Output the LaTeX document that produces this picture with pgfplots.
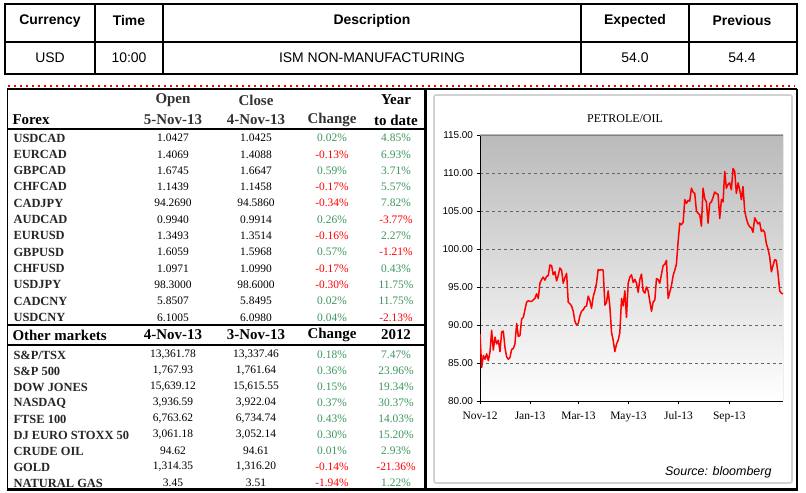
\documentclass[border=0pt]{standalone}
\usepackage{pgfplots}
\pgfplotsset{compat=1.18}
\usepackage{pgfplotstable}
\usepackage{fontspec}
\setmainfont{Liberation Serif}
\newfontfamily\arial{Liberation Sans}
\definecolor{pgreen}{RGB}{60,150,90}
\definecolor{pred}{RGB}{255,0,0}
\newcommand\fs[1]{\fontsize{#1}{#1}\selectfont}
\newcommand\row[8]{%
 \node[anchor=west,font=\fs{12.5}\bfseries,text=black!85] at (10,#1) {#2};
 \node[font=\fs{11.5}] at (173,#1) {#3};
 \node[font=\fs{11.5}] at (256,#1) {#4};
 \node[font=\fs{11.5},text=#6] at (332,#1) {#5};
 \node[font=\fs{11.5},text=#8] at (396,#1) {#7};
}
\pgfplotstableread{
day val
0 88.8
2.0 84.4
4.1 86
6.1 85.5
8.1 86.2
10.2 85.3
12.2 86.5
14.2 89.3
16.2 86.7
18.3 88.4
20.3 87.5
22.3 88
24.4 86.5
26.4 89.1
28.4 89.2
30.5 87
32.5 85.8
34.5 85.5
36.5 85.7
38.6 86.8
40.6 86.9
42.6 87.5
44.7 90.2
46.7 88.5
48.7 88.6
50.8 90.8
52.8 91
54.8 92
56.8 93
58.9 93.2
60.9 93.1
62.9 93.1
65.0 93.3
67.0 93.5
69.0 94.1
71.1 93.5
73.1 95.5
75.1 96
77.1 96.3
79.2 95.9
81.2 96.4
83.2 96.5
85.3 97.9
87.3 97.8
89.3 96.6
91.4 97
93.4 95.8
95.4 96.5
97.4 97.5
99.5 97.2
101.5 95.5
103.5 96.2
105.6 96.8
107.6 93
109.6 92.8
111.7 92.5
113.7 91.8
115.7 90.5
117.7 90
119.8 90.2
121.8 91.2
123.8 91.8
125.9 92
127.9 92.4
129.9 92.5
132.0 93.8
134.0 93.2
136.0 92.2
138.0 93.7
140.1 94.5
142.1 95.5
144.1 97.3
146.2 97.2
148.2 97.3
150.2 97.2
152.3 92.6
154.3 93
156.3 94.5
158.3 92.5
160.4 89
162.4 88
164.4 86.5
166.5 87.5
168.5 88
170.5 89
172.6 93.5
174.6 92.5
176.6 94.5
178.6 91
180.7 95.5
182.7 96.3
184.7 96.6
186.8 95.6
188.8 96
190.8 95.5
192.9 94.3
194.9 96
196.9 96.7
198.9 94.5
201.0 94.2
203.0 95
205.0 94.5
207.1 93.1
209.1 91.8
211.1 93
213.2 93.3
215.2 96.1
217.2 96
219.2 95.5
221.3 96.7
223.3 97.8
225.3 98
227.4 98.5
229.4 93.5
231.4 94.3
233.5 95.2
235.5 96.5
237.5 97.2
239.5 98
241.6 101
243.6 103.4
245.6 103.2
247.7 103.5
249.7 106.5
251.7 106
253.8 106.4
255.8 106.3
257.8 108
259.8 107.5
261.9 107.3
263.9 105
265.9 104.7
268.0 104.5
270.0 103
272.0 108
274.1 106.6
276.1 106.2
278.1 103.4
280.1 106
282.2 106.2
284.2 106.8
286.2 107.5
288.3 107.3
290.3 107.2
292.3 104
294.4 106.5
296.4 106.2
298.4 110.2
300.4 108
302.5 108.5
304.5 108.7
306.5 107.8
308.6 110.6
310.6 110.2
312.6 107.3
314.7 108.7
316.7 107.8
318.7 106.5
320.7 108.2
322.8 105
324.8 104
326.8 103.3
328.9 102.9
330.9 102.8
332.9 102.2
335.0 104.1
337.0 103.7
339.0 103.3
341.0 103.5
343.1 102.3
345.1 102.5
347.1 102.2
349.2 100.7
351.2 100
353.2 99
355.3 97
357.3 97.8
359.3 98.6
361.3 98.5
363.4 96.8
365.4 94.5
367.4 94.2
369.5 94.1
}\oiltable
\begin{document}
\begin{tikzpicture}[x=1bp,y=1bp]
\fill[white] (0,0) rectangle (806,493);
\useasboundingbox (0,0) rectangle (806,493);
% ---------- top table ----------
\draw[line width=2.2bp] (5,489) rectangle (797,419);
\draw[line width=2bp] (5,451) -- (797,451);
\foreach \xx in {95,163,581,689} \draw[line width=1.8bp] (\xx,489) -- (\xx,419);
\begin{scope}[every node/.style={font=\arial\bfseries\fs{14}}]
\node at (50,472) {Currency};
\node at (129,472) {Time};
\node at (372,472) {Description};
\node at (635,472) {Expected};
\node at (742,472) {Previous};
\end{scope}
\begin{scope}[every node/.style={font=\arial\fs{14}}]
\node at (50,435) {USD};
\node at (129,435) {10:00};
\node at (372,435) {ISM NON-MANUFACTURING};
\node at (635,435) {54.0};
\node at (742,435) {54.4};
\end{scope}
\draw[pred, line width=1.6bp, dash pattern=on 1.6bp off 4.4bp] (8,407) -- (795,407);
% ---------- lower frame ----------
\draw[line width=1.2bp] (7,404) -- (797,404);
\draw[line width=1.5bp] (7.5,404) -- (7.5,3.5);
\draw[line width=2.2bp] (425.5,404) -- (425.5,3.5);
\draw[line width=2bp] (797,404) -- (797,3.5);
\draw[line width=2.2bp] (6.5,3.5) -- (798,3.5);
% ---------- left table ----------
\begin{scope}[every node/.style={font=\fs{15}\bfseries}]
\node[text=black!80] at (173,393) {Open};
\node[text=black!80] at (256,393) {Close};
\node at (396,393) {Year};
\node[anchor=west] at (9,373) {Forex};
\node[text=black!80] at (173,373) {5-Nov-13};
\node[text=black!80] at (256,373) {4-Nov-13};
\node[text=black!80] at (332,373) {Change};
\node at (396,373) {to date};
\node[anchor=west] at (9,158) {Other markets};
\node at (173,158) {4-Nov-13};
\node at (256,158) {3-Nov-13};
\node at (332,158) {Change};
\node at (396,158) {2012};
\end{scope}
\draw[line width=2bp] (7.5,363.5) -- (425,363.5);
\draw[line width=2bp] (7.5,168) -- (425,168);
\draw[line width=2bp] (7.5,148) -- (425,148);
\row{355}{USDCAD}{1.0427}{1.0425}{0.02\%}{pgreen}{4.85\%}{pgreen}
\row{338.7}{EURCAD}{1.4069}{1.4088}{-0.13\%}{pred}{6.93\%}{pgreen}
\row{322.4}{GBPCAD}{1.6745}{1.6647}{0.59\%}{pgreen}{3.71\%}{pgreen}
\row{306.1}{CHFCAD}{1.1439}{1.1458}{-0.17\%}{pred}{5.57\%}{pgreen}
\row{289.8}{CADJPY}{94.2690}{94.5860}{-0.34\%}{pred}{7.82\%}{pgreen}
\row{273.5}{AUDCAD}{0.9940}{0.9914}{0.26\%}{pgreen}{-3.77\%}{pred}
\row{257.2}{EURUSD}{1.3493}{1.3514}{-0.16\%}{pred}{2.27\%}{pgreen}
\row{240.9}{GBPUSD}{1.6059}{1.5968}{0.57\%}{pgreen}{-1.21\%}{pred}
\row{224.6}{CHFUSD}{1.0971}{1.0990}{-0.17\%}{pred}{0.43\%}{pgreen}
\row{208.3}{USDJPY}{98.3000}{98.6000}{-0.30\%}{pred}{11.75\%}{pgreen}
\row{192}{CADCNY}{5.8507}{5.8495}{0.02\%}{pgreen}{11.75\%}{pgreen}
\row{175.7}{USDCNY}{6.1005}{6.0980}{0.04\%}{pgreen}{-2.13\%}{pred}
\row{138}{S\&P/TSX}{13,361.78}{13,337.46}{0.18\%}{pgreen}{7.47\%}{pgreen}
\row{122}{S\&P 500}{1,767.93}{1,761.64}{0.36\%}{pgreen}{23.96\%}{pgreen}
\row{106}{DOW JONES}{15,639.12}{15,615.55}{0.15\%}{pgreen}{19.34\%}{pgreen}
\row{90}{NASDAQ}{3,936.59}{3,922.04}{0.37\%}{pgreen}{30.37\%}{pgreen}
\row{74}{FTSE 100}{6,763.62}{6,734.74}{0.43\%}{pgreen}{14.03\%}{pgreen}
\row{58}{DJ EURO STOXX 50}{3,061.18}{3,052.14}{0.30\%}{pgreen}{15.20\%}{pgreen}
\row{42}{CRUDE OIL}{94.62}{94.61}{0.01\%}{pgreen}{2.93\%}{pgreen}
\row{26}{GOLD}{1,314.35}{1,316.20}{-0.14\%}{pred}{-21.36\%}{pred}
\row{10}{NATURAL GAS}{3.45}{3.51}{-1.94\%}{pred}{1.22\%}{pgreen}
% ---------- chart panel ----------
\draw[black!18, line width=1.6bp, rounded corners=2bp] (434,398) rectangle (792,10);
\node[font=\fs{12}] at (625,374) {PETROLE/OIL};
\node[anchor=east, font=\arial\itshape\fs{12.5}] at (775,21) {Source: bloomberg};
\begin{axis}[at={(480bp,92bp)}, anchor=south west,
  width=303bp, height=266bp, scale only axis,
  xmin=0, xmax=369.5, ymin=80, ymax=115,
  xtick={0,61,120,181,242,304},
  xticklabels={Nov-12,Jan-13,Mar-13,May-13,Jul-13,Sep-13},
  ytick={80,85,90,95,100,105,110,115},
  /pgf/number format/assume math mode=true,
  yticklabel={\pgfmathprintnumber[fixed,fixed zerofill,precision=2]{\tick}},
  yticklabel style={font=\arial\fs{10}},
  xticklabel style={font=\fs{11.5}, yshift=-4bp},
  axis x line*=bottom, axis y line*=left,
  axis line style={-, black, line width=0.9bp},
  tick align=outside, major tick length=3.5bp,
  tick style={black, line width=0.7bp},
  ymajorgrids, grid style={black!60, dashed, line width=0.55bp},
  axis background/.style={top color=black!27, bottom color=white},
  clip=true]
\addplot[pred, line width=1.5bp, line join=round] table[x=day,y=val] {\oiltable};
\draw[black!50, line width=0.8bp] (rel axis cs:0,1) -- (rel axis cs:1,1) -- (rel axis cs:1,0);
\end{axis}
\end{tikzpicture}
\end{document}
